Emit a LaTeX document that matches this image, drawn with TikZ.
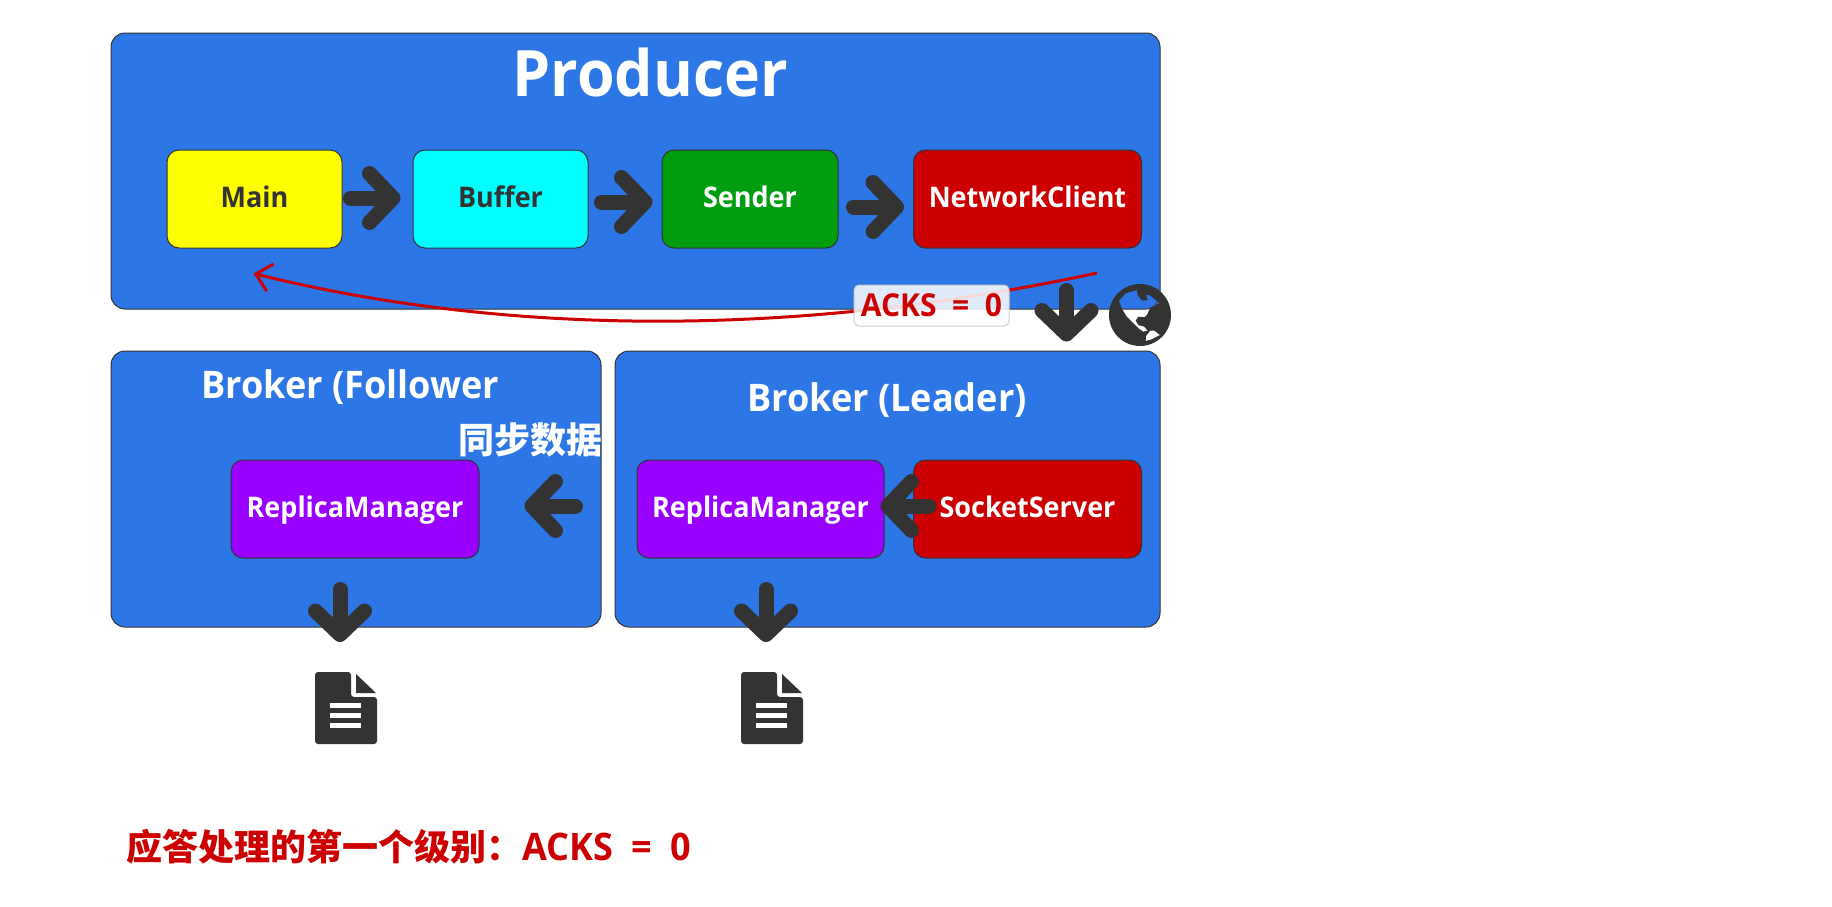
\documentclass[tikz,border=0pt]{standalone}
\usepackage{fontspec}
\setmainfont{Open Sans}[FakeStretch=.95]
\newfontfamily\acksfont{Open Sans}[FakeStretch=.95,WordSpace=2]
\newfontfamily\cjk{Noto Sans CJK SC}
\usetikzlibrary{arrows.meta,calc}
\definecolor{panelblue}{HTML}{2C76E5}
\definecolor{darkgray}{HTML}{333333}
\definecolor{ackred}{HTML}{CC0000}
\definecolor{sendgreen}{HTML}{009E0F}
\definecolor{replpurple}{HTML}{9900FF}
\definecolor{mainyellow}{HTML}{FFFF00}
\definecolor{bufcyan}{HTML}{00FFFF}

\begin{document}
\begin{tikzpicture}[
  x=1pt,y=-1pt,
  panel/.style={draw=darkgray, line width=1pt, fill=panelblue, rounded corners=14pt, minimum height=276pt, inner sep=0pt},
  unit/.style={draw=darkgray, line width=1pt, rounded corners=12pt, minimum height=98pt, inner sep=0pt, text=white, text height=24pt, text depth=8pt, font=\fontsize{28.4}{32}\selectfont\bfseries},
  title/.style={text=white, inner sep=0pt, text height=28pt, text depth=10pt, font=\fontsize{38}{42}\selectfont\bfseries},
  bigarrow/.style={draw=darkgray, line width=15pt, line cap=round, -{Straight Barb[length=23.5pt,width=49pt,line width=15pt,round]}},
  docicon/.pic={
    \fill[darkgray,rounded corners=3pt] (-31,0) -- (5,0) -- (5,25) -- (31,25) -- (31,72) -- (-31,72) -- cycle;
    \fill[darkgray] (10,2) -- (30,21) -- (10,21) -- cycle;
    \fill[white] (-16,31) rectangle (15,36);
    \fill[white] (-16,41) rectangle (15,46);
    \fill[white] (-16,51) rectangle (15,56);
  }
  ]
  \useasboundingbox (0,0) rectangle (1832,906);

  \node[panel,minimum width=1049pt] (producer) at (635.5,171) {};
  \node[panel,minimum width=490pt] (follower) at (356,489) {};
  \node[panel,minimum width=545pt] (leader) at (887.5,489) {};

  \node[title,text height=46pt,text depth=14pt,font=\fontsize{64}{70}\selectfont\bfseries] (prodtitle) at (650.5,80) {Producer};
  \node[title] (foltitle) at (350,389) {Broker (Follower};
  \node[title] (leadtitle) at (887,402) {Broker (Leader)};
  \node[title,font=\fontsize{36}{42}\selectfont\bfseries\cjk] (sync) at (530,444) {同步数据};

  \node[unit,fill=mainyellow,text=darkgray,minimum width=175pt] (main) at (254.5,199) {Main};
  \node[unit,fill=bufcyan,text=darkgray,minimum width=175pt] (buffer) at (500.5,199) {Buffer};
  \node[unit,fill=sendgreen,minimum width=176pt] (sender) at (750,199) {Sender};
  \node[unit,fill=ackred,minimum width=228pt] (netclient) at (1027.5,199) {NetworkClient};
  \node[unit,fill=replpurple,minimum width=248pt] (replf) at (355,509) {ReplicaManager};
  \node[unit,fill=replpurple,minimum width=247pt] (repll) at (760.5,509) {ReplicaManager};
  \node[unit,fill=ackred,minimum width=228pt] (socket) at (1027.5,509) {SocketServer};

  \coordinate (docf) at (346,672);
  \coordinate (docl) at (772,672);
  \coordinate (acksend) at (1097,273);
  \pic at (docf) {docicon};
  \pic at (docl) {docicon};

  \draw[ackred,line width=3pt,-{Straight Barb[length=15pt,width=28pt,line width=3pt]}]
    (acksend) .. controls (800,337) and (510,337) .. ([xshift=-1pt,yshift=-25pt]main.south);
  \node[draw=black!20,line width=1pt,fill=white,fill opacity=.85,text opacity=1,text=ackred,rounded corners=5pt,minimum width=155pt,minimum height=41pt,inner sep=0pt,font=\fontsize{31.6}{36}\selectfont\bfseries\acksfont] (ackslabel) at (931.5,305.5) {ACKS = 0};

  \draw[bigarrow,shorten <=8pt,shorten >=12pt] ([yshift=1pt]main.east) -- ([yshift=1pt]buffer.west);
  \draw[bigarrow,shorten <=13pt,shorten >=9pt] ([yshift=-3pt]buffer.east) -- ([yshift=-3pt]sender.west);
  \draw[bigarrow,shorten <=15pt,shorten >=9pt] ([yshift=-8pt]sender.east) -- ([yshift=-8pt]netclient.west);
  \draw[bigarrow,shorten <=42pt,shorten >=9pt] ([xshift=39pt]netclient.south) -- ([xshift=39pt]netclient.south |- leader.north);
  \draw[bigarrow,shorten <=-16pt,shorten >=-4pt] ([yshift=3pt]socket.west) -- ([yshift=3pt]repll.east);
  \draw[bigarrow,shorten <=61pt,shorten >=45pt] ([yshift=3pt]repll.west) -- ([yshift=3pt]replf.east);
  \draw[bigarrow,shorten <=31pt,shorten >=30pt] ([xshift=-6pt]docf |- replf.south) -- ([xshift=-6pt]docf);
  \draw[bigarrow,shorten <=31pt,shorten >=30pt] ([xshift=-6pt]docl |- repll.south) -- ([xshift=-6pt]docl);

  \begin{scope}[shift={(1105,280)},x=.3333pt,y=-.3333pt]
    \fill[darkgray,even odd rule] (105,105) circle (93)
      (42,62) -- (62,40) -- (95,30) -- (98,46) -- (112,62) -- (128,60) -- (122,44) -- (135,46) -- (162,68) -- (150,78) -- (135,85) -- (126,105) -- (118,112) -- (100,110) -- (92,122) -- (100,135) -- (118,140) -- (128,152) -- (115,155) -- (100,145) -- (80,125) -- (65,110) -- (50,85) -- cycle
      (123,168) -- (135,152) -- (148,152) -- (165,165) -- (140,178) -- (122,183) -- cycle;
  \end{scope}

  \node[anchor=west,inner sep=0pt,text=ackred,font=\fontsize{37.9}{42}\selectfont\bfseries] (level) at (126,847) {{\cjk\fontsize{36}{42}\selectfont 应答处理的第一个级别：}{\acksfont ACKS = 0}};
\end{tikzpicture}
\end{document}
